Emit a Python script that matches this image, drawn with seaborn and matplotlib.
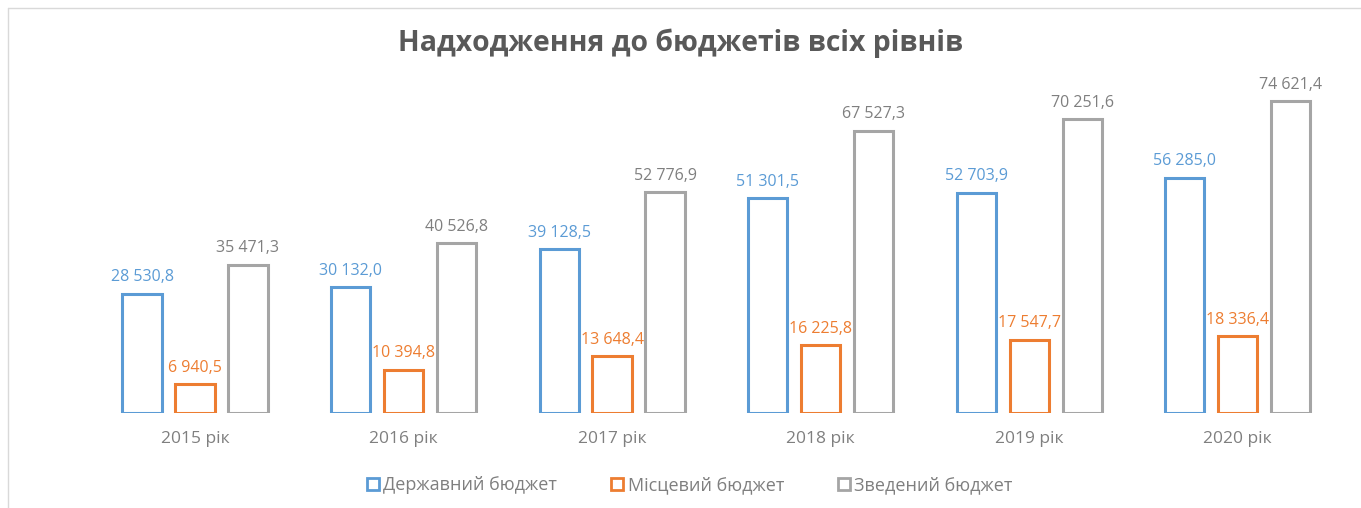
import matplotlib
matplotlib.use("Agg")
import matplotlib.pyplot as plt
import seaborn as sns
import pandas as pd
from matplotlib.patches import Patch
from matplotlib.lines import Line2D

years = ["2015 рік", "2016 рік", "2017 рік", "2018 рік", "2019 рік", "2020 рік"]
series_names = ["Державний бюджет", "Місцевий бюджет", "Зведений бюджет"]
state_budget = [28530.8, 30132.0, 39128.5, 51301.5, 52703.9, 56285.0]
local_budget = [6940.5, 10394.8, 13648.4, 16225.8, 17547.7, 18336.4]
consolidated_budget = [35471.3, 40526.8, 52776.9, 67527.3, 70251.6, 74621.4]
colors = ["#5B9BD5", "#ED7D31", "#A5A5A5"]
label_colors = ["#5B9BD5", "#ED7D31", "#7F7F7F"]
title = "Надходження до бюджетів всіх рівнів"

rows = []
for name, vals in zip(series_names, [state_budget, local_budget, consolidated_budget]):
    for y, v in zip(years, vals):
        rows.append({"year": y, "series": name, "value": v})
df = pd.DataFrame(rows)

sns.set_theme(style="white")
plt.rcParams["font.family"] = ["Open Sans", "DejaVu Sans"]

fig = plt.figure(figsize=(13.61, 5.08), dpi=100)
ax = fig.add_axes([90.7 / 1361, (508 - 413) / 508, (1342 - 90.7) / 1361, (413 - 78.4) / 508])

sns.barplot(data=df, x="year", y="value", hue="series", order=years, hue_order=series_names,
            palette=colors, fill=False, linewidth=2.2, width=0.762, gap=0.26,
            errorbar=None, ax=ax, legend=False)

def fmt(v):
    s = f"{v:,.1f}"
    return s.replace(",", " ").replace(".", ",")

for cont, lc in zip(ax.containers, label_colors):
    ax.bar_label(cont, labels=[fmt(b.get_height()) for b in cont], padding=6,
                 color=lc, fontsize=11.5)

ax.set_xlim(-0.5, 5.5)
ax.set_ylim(0, 80000)
for s in ax.spines.values():
    s.set_visible(False)
ax.set_yticks([])
ax.set_xlabel("")
ax.set_ylabel("")
ax.tick_params(axis="x", length=0, labelsize=12.5, labelcolor="#7F7F7F", pad=13)

fig.text(0.5, 1 - 43 / 508, title, ha="center", va="center", fontsize=20.4,
         fontweight="bold", color="#595959")

handles = [Patch(facecolor="white", edgecolor=c, linewidth=2) for c in colors]
leg = fig.legend(handles, series_names, loc="center", bbox_to_anchor=(690 / 1361, 1 - 485 / 508),
                 ncol=3, frameon=False, fontsize=13, handlelength=0.65, handleheight=0.65,
                 handletextpad=0.25, columnspacing=3.0)
for t in leg.get_texts():
    t.set_color("#7F7F7F")

fig.add_artist(Line2D([8 / 1361, 1], [1 - 8 / 508, 1 - 8 / 508], color="#D9D9D9", lw=1,
                      transform=fig.transFigure))
fig.add_artist(Line2D([8 / 1361, 8 / 1361], [0, 1 - 8 / 508], color="#D9D9D9", lw=1,
                      transform=fig.transFigure))

fig.savefig("out.png", dpi=100, facecolor="white")
